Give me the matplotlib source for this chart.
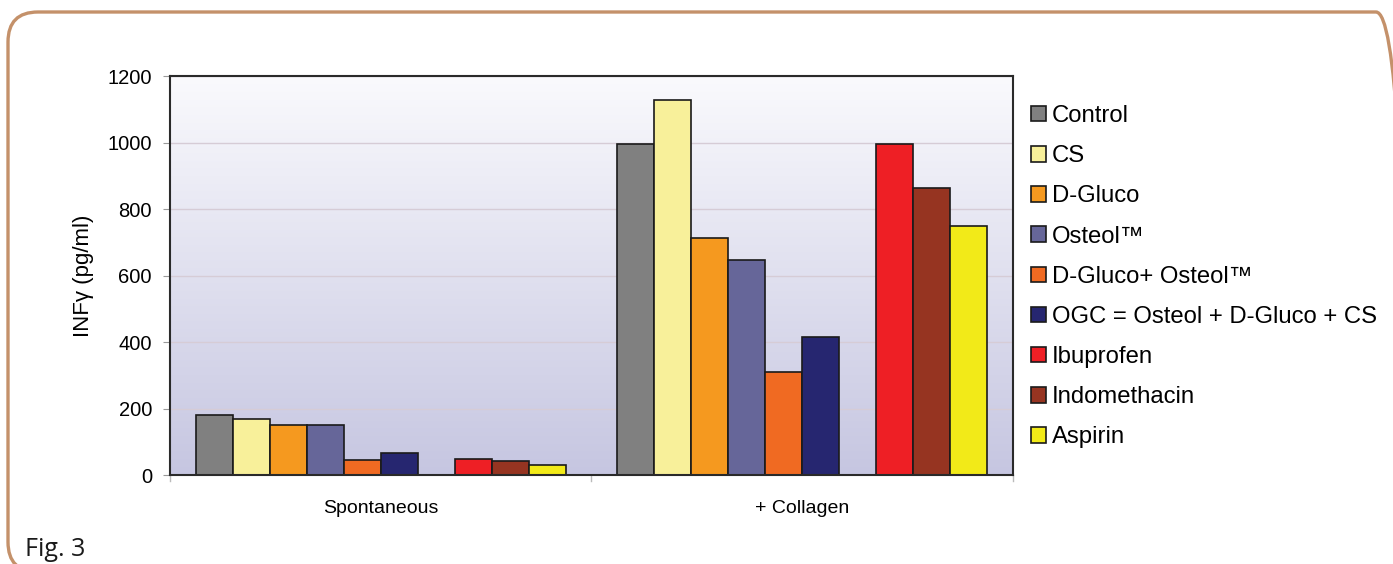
import matplotlib.pyplot as plt
import numpy as np
from matplotlib.patches import Patch, FancyBboxPatch
from matplotlib.colors import LinearSegmentedColormap
from matplotlib.transforms import IdentityTransform

plt.rcParams['font.family'] = ['Liberation Sans', 'DejaVu Sans']

conditions = ['Spontaneous', '+ Collagen']
treatments = ['Control', 'CS', 'D-Gluco', 'Osteol™', 'D-Gluco+ Osteol™',
              'OGC = Osteol + D-Gluco + CS', 'Ibuprofen', 'Indomethacin', 'Aspirin']
spontaneous = [180, 168, 149, 149, 45, 66, 47, 41, 30]
collagen = [995, 1128, 712, 647, 311, 416, 995, 862, 749]
colors = ['#808080', '#F8F09A', '#F5991F', '#666699', '#F06A22',
          '#262670', '#EE1F25', '#963421', '#F2EA18']
yticks = [0, 200, 400, 600, 800, 1000, 1200]

fig = plt.figure(figsize=(13.93, 5.64), dpi=100)
ax = fig.add_axes([0.122, 0.1578, 0.6052, 0.7074])

# gradient plot background
grad = np.linspace(0, 1, 256).reshape(-1, 1)
cmap = LinearSegmentedColormap.from_list('bg', ['#C6C6E1', '#FAFAFD'])
ax.imshow(grad, aspect='auto', cmap=cmap, origin='lower',
          extent=[0, 2, 0, 1200], zorder=0)

# 9 bars per group plus one empty slot between the two drug sets
w = 0.0878
slots = [0, 1, 2, 3, 4, 5, 7, 8, 9]
for g, vals in enumerate([spontaneous, collagen]):
    for i, v in enumerate(vals):
        x = g + 0.5 + (slots[i] - 4.5) * w
        ax.bar(x, v, width=w, color=colors[i], edgecolor='#1a1a1a',
               linewidth=1.2, zorder=3)

ax.set_xlim(0, 2)
ax.set_ylim(0, 1200)
ax.set_yticks(yticks)
ax.set_yticklabels([str(t) for t in yticks], fontsize=14.5)
ax.set_xticks([0.5, 1.5])
ax.set_xticklabels(conditions, fontsize=14)
ax.tick_params(axis='x', length=0, pad=18)
ax.tick_params(axis='y', length=5, color='#999999', pad=8)
for t in [0, 1, 2]:
    ax.plot([t, t], [0, -18], color='#bbbbbb', lw=1, clip_on=False, zorder=1)
ax.grid(axis='y', color='#D6CCD6', linewidth=1, zorder=1)
ax.set_axisbelow(True)
for s in ax.spines.values():
    s.set_color('#2a2a2a')
    s.set_linewidth(1.5)
    s.set_zorder(4)

ax.set_ylabel('INFγ (pg/ml)', fontsize=16, labelpad=10)

handles = [Patch(facecolor=c, edgecolor='#1a1a1a', linewidth=1.2) for c in colors]
fig.legend(handles, treatments, loc='upper left', bbox_to_anchor=(0.7335, 0.8305),
           frameon=False, fontsize=17.2, handlelength=0.62, handleheight=0.62,
           handletextpad=0.25, labelspacing=0.76, borderaxespad=0)

fig.text(25 / 1393, 1 - 556 / 564, 'Fig. 3', fontsize=18, family='Open Sans',
         color='#1a1a1a')

# rounded orange frame in pixel units, right and bottom sides run off the edge
frame = FancyBboxPatch((8, -8), 1398, 564 - 12 + 8,
                       boxstyle='round,pad=0,rounding_size=30',
                       transform=IdentityTransform(), fill=False,
                       edgecolor='#C4916A', linewidth=2.4, clip_on=False)
fig.patches.append(frame)

fig.savefig('out.png', dpi=100)
